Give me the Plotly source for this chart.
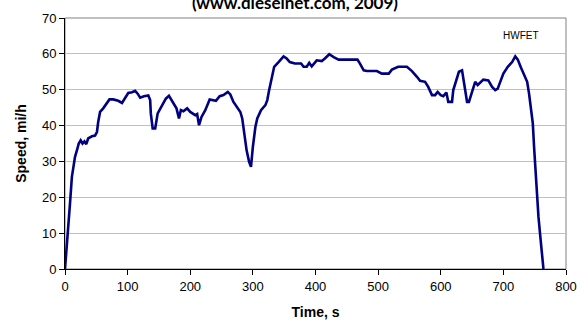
import plotly.graph_objects as go

time_s = [0, 3, 5, 8, 11, 13, 16, 19, 22, 25, 28, 31, 34, 37, 43, 48, 51, 53, 56, 61, 66, 71,
          77, 85, 91, 96, 101, 107, 112, 116, 120, 126, 133, 136, 137, 140, 144, 148, 152, 157,
          161, 166, 172, 176, 178, 182, 185, 189, 195, 200, 208, 211, 214, 218, 224, 231, 237,
          241, 247, 253, 260, 264, 269, 274, 280, 283, 286, 290, 294, 297, 300, 304, 307, 313,
          320, 323, 326, 330, 334, 341, 349, 354, 359, 367, 377, 381, 386, 390, 394, 402, 410,
          415, 422, 429, 437, 450, 467, 471, 477, 482, 498, 506, 517, 522, 532, 546, 554, 562,
          567, 575, 580, 586, 591, 595, 600, 604, 609, 612, 618, 620, 625, 629, 634, 636, 639,
          642, 645, 650, 655, 659, 663, 668, 676, 682, 687, 691, 695, 700, 707, 714, 719, 723,
          728, 733, 738, 741, 744, 747, 749, 751, 754, 756, 759, 762, 764]
speed_mph = [0, 6.2, 12.7, 18.3, 25.7, 28.5, 31.3, 33.1, 35.0, 35.9, 35.0, 35.6, 34.8, 36.4,
             37.0, 37.2, 38.2, 41.0, 43.8, 44.8, 46.1, 47.3, 47.3, 46.9, 46.3, 47.8, 49.1, 49.3,
             49.7, 48.9, 47.8, 48.2, 48.4, 47.1, 43.4, 39.2, 39.2, 43.4, 44.8, 46.2, 47.5, 48.3,
             46.6, 45.7, 44.8, 42.0, 44.3, 44.0, 44.8, 43.8, 42.9, 43.2, 40.1, 42.4, 44.3, 47.3,
             47.1, 46.9, 48.2, 48.5, 49.4, 48.7, 46.6, 45.2, 43.8, 42.0, 37.8, 33.1, 29.9, 28.5,
             34.1, 39.6, 42.0, 44.3, 45.7, 47.1, 49.9, 53.6, 56.4, 57.7, 59.3, 58.7, 57.7, 57.3,
             57.3, 56.4, 56.4, 57.5, 56.5, 58.2, 58.0, 58.7, 59.9, 59.1, 58.4, 58.4, 58.4, 57.3,
             55.4, 55.2, 55.2, 54.5, 54.5, 55.6, 56.4, 56.4, 55.2, 53.6, 52.5, 52.2, 50.8, 48.5,
             48.5, 49.4, 48.5, 48.2, 49.2, 46.6, 46.6, 49.9, 53.1, 55.0, 55.4, 53.6, 49.9, 46.6,
             46.6, 49.4, 52.2, 51.3, 51.9, 52.8, 52.6, 50.8, 49.9, 50.3, 52.2, 54.5, 56.4, 57.7,
             59.3, 58.4, 56.2, 54.0, 52.2, 48.9, 45.2, 40.6, 34.1, 27.6, 20.1, 14.6, 9.0, 3.4, 0]

x_ticks = [0, 100, 200, 300, 400, 500, 600, 700, 800]
y_ticks = [0, 10, 20, 30, 40, 50, 60, 70]

fig = go.Figure()
fig.add_trace(go.Scatter(x=time_s, y=speed_mph, mode="lines",
                         line=dict(color="#000080", width=2.6), showlegend=False))

fig.add_shape(type="rect", xref="paper", yref="paper", x0=0, x1=1, y0=0, y1=1,
              line=dict(color="#808080", width=1), layer="below")

fig.update_layout(
    width=577, height=327,
    margin=dict(l=65, r=11, t=18, b=58),
    paper_bgcolor="white", plot_bgcolor="white",
    font=dict(family="Liberation Sans, Arial", size=13, color="#000000"),
    xaxis=dict(range=[0, 800], tickvals=x_ticks, showgrid=False, zeroline=False,
               automargin=False,
               showline=True, linecolor="#000000", linewidth=1,
               ticks="outside", ticklen=5, tickcolor="#000000",
               title=dict(text="<b>Time, s</b>", font=dict(size=14), standoff=14)),
    yaxis=dict(range=[0, 70], tickvals=y_ticks, showgrid=True, gridcolor="#c0c0c0",
               gridwidth=1, zeroline=False, automargin=False,
               showline=True, linecolor="#000000", linewidth=1,
               ticks="outside", ticklen=5, tickcolor="#000000",
               title=dict(text="<b>Speed, mi/h</b>", font=dict(size=14), standoff=12)),
    annotations=[
        dict(text="HWFET", xref="paper", yref="paper", x=0.91, y=0.932,
             xanchor="center", yanchor="middle",
             showarrow=False, font=dict(size=10, family="Liberation Sans, Arial")),
        dict(text="<b>(www.dieselnet.com, 2009)</b>", xref="paper", yref="paper",
             x=0.46, y=1.06, showarrow=False, xanchor="center", yanchor="middle",
             font=dict(size=17, family="Lato, Liberation Sans")),
    ],
)

fig.write_html("out.html")
